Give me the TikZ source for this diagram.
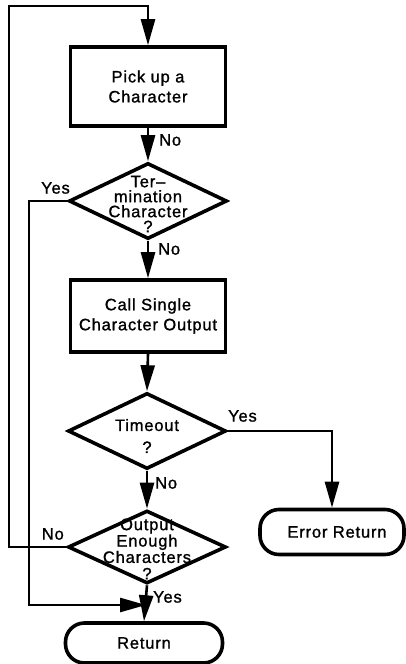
\documentclass[tikz,border=0pt]{standalone}
\usepackage{fontspec}
\setmainfont{Liberation Sans}[LetterSpace=5,FakeBold=1.2]
\usetikzlibrary{shapes.geometric,arrows.meta}
\begin{document}
\begin{tikzpicture}[x=1pt,y=-1pt,
  every node/.style={font=\fontsize{16.5}{20}\selectfont},
  procbox/.style={draw,line width=3.6pt,minimum width=155pt,inner sep=0pt,align=center},
  decbox/.style={draw,diamond,line width=3.6pt,minimum width=158pt,minimum height=76pt,inner sep=0pt,aspect=2},
  dtext/.style={align=center,inner sep=0pt,font=\fontsize{16.5}{15}\selectfont},
  termbox/.style={draw,line width=3.6pt,rounded corners=19pt,inner sep=0pt},
  conn/.style={line width=2.6pt},
  arr/.style={conn,-{Triangle[length=26pt,width=14pt]}},
  lbl/.style={inner sep=0pt}]
\useasboundingbox (0,0) rectangle (405,664);

\node[procbox,minimum height=79pt] (b1) at (148,86.5) {Pick up a\\Character};
\node[decbox] (d1) at (148,201) {};
\node[dtext] (t1) at (148,204) {Ter--\\mination\\Character\\?};
\node[procbox,minimum height=72pt] (b2) at (148,316) {Call Single\\Character Output};
\node[decbox] (d2) at (147,431) {};
\node[dtext,font=\fontsize{16.5}{22}\selectfont] (t2) at (147,436) {Timeout\\?};
\node[decbox,minimum height=73pt] (d3) at (147,547) {};
\node[dtext,font=\fontsize{16.5}{13.5}\selectfont] (t3) at (147,549) {Output\\Enough\\Characters\\[3pt]?};
\node[termbox,minimum width=157pt,minimum height=40pt] (ret) at (144,643) {Return};
\node[termbox,minimum width=144pt,minimum height=45pt] (err) at (332,532) {\hspace{10pt}Error Return};

\coordinate (ltop) at (9,6);
\coordinate (ybot) at (29,605);
\coordinate (yend) at (146,605);

\draw[arr] (b1.south) -- (d1.north);
\draw[arr] (d1.south) -- (b2.north);
\draw[arr] (b2.south) -- (d2.north);
\draw[arr] (d2.south) -- (d3.north);
\draw[arr] (d3.south) -- (ret.north);
\draw[arr] (d2.east) -| (err.north);
\draw[arr] (d3.west) -| (ltop) -| (b1.north);
\draw[arr] (d1.west) -| (ybot) -- (yend);

\node[lbl,anchor=west] (n1) at (159,140) {No};
\node[lbl,anchor=east] (y1) at (70,188) {Yes};
\node[lbl,anchor=west] (n2) at (158,249) {No};
\node[lbl,anchor=west] (y2) at (228,416) {Yes};
\node[lbl,anchor=west] (n3) at (155,483) {No};
\node[lbl,anchor=east] (n4) at (64,534) {No};
\node[lbl,anchor=west] (y3) at (153,597) {Yes};
\end{tikzpicture}
\end{document}
